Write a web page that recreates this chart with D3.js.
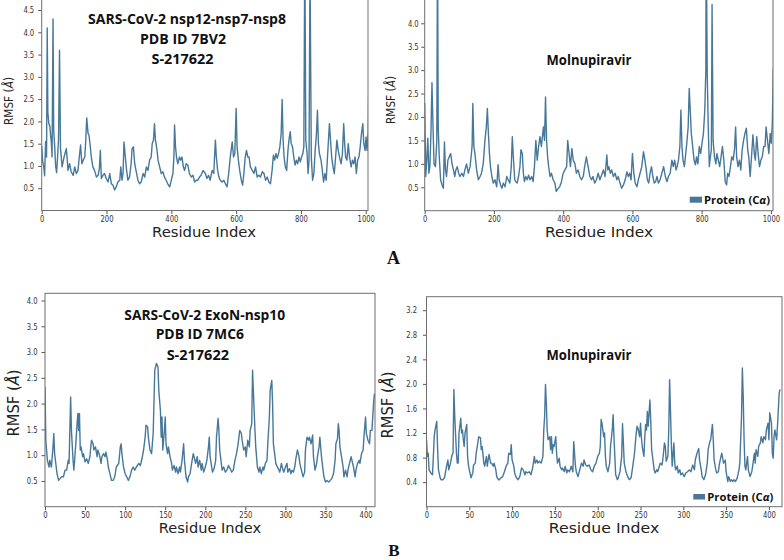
<!DOCTYPE html>
<html><head><meta charset="utf-8">
<script src="https://cdn.jsdelivr.net/npm/d3@7"></script>
<style>body{margin:0;background:#fff}svg{display:block}</style>
</head><body>
<script>
// ---------- DATA ----------
const a1Residue = [0,3,6,9,12,15,17,19,22,25,28,30,32,35,37,40,43,46,49,52,55,58,63,69,76,79,81,86,91,97,102,107,112,116,120,124,128,133,136,139,143,146,150,153,158,163,169,174,178,181,184,189,194,199,205,210,215,220,225,230,235,241,244,248,251,254,258,262,266,271,276,279,283,287,291,297,302,307,313,318,323,328,333,338,341,345,348,351,356,359,364,369,374,379,384,389,395,400,405,408,410,413,416,420,425,429,433,437,441,446,451,456,462,467,472,477,482,487,492,498,505,510,515,520,526,531,536,539,543,547,551,557,562,567,572,577,582,588,592,596,600,603,607,611,616,620,624,628,632,636,640,644,650,655,660,665,670,675,681,686,691,696,701,706,711,715,719,723,727,731,735,739,742,745,748,752,756,760,763,767,770,774,778,782,786,790,794,798,802,806,809,812,815,819,822,825,828,832,836,840,844,848,851,854,857,862,866,870,874,878,882,885,888,892,895,899,903,907,911,915,919,924,928,932,935,938,942,946,950,955,959,963,967,971,975,979,983,987,991,994,998,1001,1004,1008,1010];
const a1Rmsf = [1.45,1.1,1.0,0.78,1.55,1.2,4.1,2.2,1.95,1.9,1.65,1.5,1.2,4.3,1.8,1.45,1.0,0.85,1.2,1.6,3.6,1.4,0.98,1.2,1.39,1.13,0.9,1.05,0.87,0.79,0.98,0.83,0.9,1.2,1.47,1.05,1.13,1.2,1.58,2.08,1.73,1.69,1.43,1.2,0.98,0.9,0.75,0.79,0.94,1.35,0.72,0.79,0.83,0.72,0.64,0.83,0.6,0.57,0.46,0.53,0.64,0.68,0.98,0.68,0.83,1.54,1.2,0.9,0.68,0.75,1.05,1.39,1.43,1.05,0.9,0.68,0.6,0.64,0.83,0.75,0.98,0.9,1.13,1.2,1.5,1.58,1.95,1.58,1.35,1.13,0.98,0.83,0.87,0.75,0.68,0.6,0.53,0.68,0.83,1.2,1.92,1.43,1.2,1.05,1.2,1.13,1.2,0.98,0.9,1.05,1.02,0.83,0.75,0.79,0.64,0.68,0.68,0.75,0.79,0.9,0.83,0.72,0.79,0.68,0.9,0.83,1.58,1.2,0.9,0.75,0.68,0.64,0.68,0.6,0.53,0.83,1.2,1.54,1.2,1.28,2.29,1.43,1.13,0.9,0.68,0.57,0.83,1.2,1.35,1.2,1.2,0.98,0.9,0.83,0.98,0.75,0.79,0.75,0.87,0.83,0.68,0.75,0.64,0.6,0.9,1.24,1.13,1.28,1.17,1.28,1.43,1.73,2.49,1.58,1.2,0.98,0.9,1.35,1.58,1.77,1.5,1.43,1.2,1.02,1.13,1.05,1.2,1.09,1.2,1.28,1.43,6.0,1.58,1.28,0.83,1.13,5.5,1.2,0.68,0.83,1.35,1.73,2.25,1.5,1.28,1.13,0.9,0.64,0.83,0.68,1.2,1.58,1.95,1.5,1.2,0.98,0.83,1.2,1.58,1.35,1.2,1.05,1.28,1.95,1.5,1.2,1.13,1.5,1.2,0.98,1.13,1.05,1.2,0.83,1.13,1.2,1.43,1.73,1.95,1.5,1.35,1.65,1.35,1.8,3.3];

const a2Residue = [0,3,6,9,12,15,18,21,24,27,31,35,37,39,42,46,50,54,57,60,63,67,71,75,79,83,87,90,94,98,102,107,112,116,121,126,131,135,137,139,142,145,150,155,160,164,169,174,178,181,184,187,190,194,198,203,208,212,215,219,223,227,232,237,241,246,250,253,256,260,263,267,271,275,278,282,285,288,292,296,300,304,309,313,317,321,325,329,333,337,341,343,346,349,352,355,358,362,366,371,376,380,386,390,395,400,405,410,413,417,421,425,429,434,438,443,448,453,458,462,467,472,477,482,486,491,496,501,506,511,516,521,526,529,532,536,540,545,550,555,559,564,569,574,579,584,588,592,596,600,604,608,613,617,622,627,632,636,640,643,647,651,655,659,663,667,671,675,680,685,690,695,700,704,709,714,718,722,726,729,733,737,740,743,746,750,754,757,761,764,767,770,774,778,782,785,789,793,797,801,805,809,812,813,816,819,822,825,828,830,833,837,841,844,848,852,856,860,864,868,872,875,879,883,887,891,895,898,901,905,909,913,917,921,925,929,933,936,940,944,948,952,955,959,963,967,971,975,979,983,986,990,994,998,1001,1004,1007];
const a2Rmsf = [2.3,0.73,1.08,1.55,0.8,0.94,1.65,2.73,1.79,1.0,0.94,1.5,6.0,1.79,1.15,0.66,0.55,0.48,1.47,0.87,0.73,1.08,1.15,1.22,1.0,0.87,0.73,0.87,0.94,0.8,0.73,0.8,0.73,0.87,1.0,0.8,0.94,1.22,1.4,2.29,1.37,1.22,0.87,0.66,0.73,0.8,1.0,1.5,1.79,2.18,1.65,1.22,0.94,0.73,0.59,0.66,0.51,0.98,0.66,0.55,0.48,0.59,0.51,0.73,0.66,0.59,0.94,1.58,1.15,0.66,0.62,0.59,0.73,0.94,1.3,1.22,0.8,0.62,0.73,0.66,0.76,0.66,0.73,0.62,0.94,1.5,1.08,1.37,1.58,1.37,1.65,1.79,1.5,2.43,1.5,1.15,0.94,0.73,0.8,0.66,0.59,0.41,0.48,0.51,0.62,0.8,0.87,0.94,1.5,1.22,0.94,1.33,1.08,1.0,0.8,0.87,0.73,0.66,0.73,0.94,1.15,0.94,0.73,0.66,0.73,0.59,0.66,0.8,0.66,0.76,0.87,0.73,1.19,0.87,0.94,0.8,0.87,0.73,0.8,0.66,0.73,0.59,0.48,0.55,0.66,0.83,0.73,0.8,0.66,1.22,0.8,0.59,0.51,0.66,0.8,0.94,1.26,1.08,0.87,0.66,0.59,0.8,0.94,0.73,0.59,0.62,0.73,0.59,0.66,0.8,0.94,0.73,0.62,0.73,0.8,1.08,0.94,1.08,0.87,0.94,1.08,1.37,2.15,1.37,1.08,0.94,1.22,1.44,1.79,2.61,2.15,1.65,1.37,1.08,0.98,1.15,1.0,1.37,1.22,1.44,1.65,2.15,3.0,6.0,2.93,1.79,0.94,1.15,1.3,4.4,1.5,1.15,1.0,1.22,1.08,0.94,1.15,1.37,1.08,0.62,0.55,0.8,0.73,0.94,1.15,1.08,1.33,1.79,1.15,0.94,1.08,0.87,1.3,1.5,1.65,1.76,1.3,1.15,0.73,1.15,1.62,1.22,1.08,1.58,1.22,0.94,1.08,1.15,1.37,1.37,1.79,1.5,1.22,1.65,1.44,1.86,3.05];

const b1Residue = [0,1,3,5,6,8,10,11,12,15,17,19,21,23,25,27,29,30,32,33,35,36,37,39,40,41,42,43,44,45,47,48,50,52,54,56,58,60,61,63,65,66,68,70,71,73,75,76,78,79,81,83,85,87,89,92,94,95,96,98,100,102,104,106,108,110,112,114,117,119,121,123,125,126,128,129,131,133,135,137,138,139,141,142,144,145,146,147,149,150,151,153,154,156,158,159,161,163,164,166,168,169,171,173,174,176,178,179,181,183,185,186,188,190,191,193,195,196,198,200,202,204,205,206,208,209,211,213,214,216,217,218,220,221,223,225,227,229,231,233,235,237,239,241,243,245,246,248,250,251,253,255,256,258,259,260,261,262,263,265,267,268,270,272,273,275,277,278,280,281,283,284,285,287,288,290,292,293,295,297,298,300,302,303,305,307,308,310,312,313,315,317,318,320,322,324,325,327,329,330,332,334,335,337,339,340,342,343,345,347,348,350,352,354,356,358,360,362,363,365,366,367,368,370,372,373,375,377,378,380,382,383,385,387,388,390,392,393,395,397,398,400,401,403,405,406,408,410,411];
const b1Rmsf = [2.32,1.29,0.9,0.77,0.9,0.77,1.16,1.42,1.03,0.64,0.51,0.55,0.58,0.58,0.71,0.71,0.9,0.84,2.13,1.48,0.9,0.71,0.9,1.35,1.61,1.81,1.48,1.81,1.1,1.16,0.97,1.03,0.87,0.93,0.84,0.97,1.29,1.22,1.1,1.16,0.97,1.1,1.0,0.84,0.97,1.03,0.97,1.06,0.9,0.77,0.64,0.51,0.51,0.58,0.77,0.84,1.16,1.22,1.03,0.77,0.64,0.58,0.51,0.58,0.71,0.77,0.71,0.77,0.84,0.8,0.93,1.1,1.35,1.58,1.55,1.35,1.1,1.03,1.42,2.65,2.71,2.78,2.71,2.26,1.87,1.35,1.74,1.1,1.48,1.74,1.22,1.03,1.16,0.97,0.84,0.71,0.8,0.67,0.77,0.64,0.77,0.67,0.9,1.22,0.9,0.58,0.48,0.58,0.64,0.84,1.03,0.97,0.84,0.97,0.77,0.9,0.71,0.84,0.67,0.77,0.9,1.16,1.35,0.97,0.77,0.67,0.74,0.9,1.35,1.71,1.48,1.1,0.84,0.71,0.77,0.67,0.71,0.8,0.74,0.67,0.71,0.9,1.03,1.22,1.48,1.42,1.29,1.1,1.16,0.97,1.29,1.16,1.48,1.61,2.65,2.26,1.87,1.48,1.16,0.77,0.67,0.77,0.64,0.77,0.71,0.84,0.9,1.22,1.74,2.26,2.45,2.0,1.22,0.97,0.84,0.77,0.71,0.67,0.84,0.71,0.67,0.77,0.84,0.67,0.74,0.64,0.71,0.67,0.8,0.93,1.1,0.97,0.84,0.71,0.58,0.67,1.1,1.35,1.29,1.35,1.22,1.39,0.97,0.71,0.84,0.97,1.16,1.35,0.97,0.71,0.58,0.48,0.51,0.48,0.51,0.55,0.64,0.9,1.22,1.32,1.61,1.48,1.16,0.97,0.77,0.58,0.71,0.58,0.71,0.84,0.97,0.9,0.77,0.58,0.71,0.84,0.9,0.84,1.03,1.1,1.35,1.74,1.42,1.29,1.22,1.48,1.48,2.0,2.19];

const b2Residue = [0,1,2,3,5,7,8,9,10,12,13,14,16,17,19,21,23,25,26,28,30,31,32,33,35,36,37,38,40,41,42,43,44,45,47,48,49,50,52,54,55,57,58,60,61,63,64,65,67,68,70,71,73,75,76,78,79,81,82,84,85,87,89,91,93,95,96,98,99,100,102,103,105,107,109,111,113,115,116,118,120,122,124,126,127,129,130,132,134,136,137,138,139,140,141,142,144,145,146,147,148,149,151,152,153,155,156,158,159,161,162,164,165,167,169,171,172,174,175,177,179,181,183,184,186,188,190,192,194,196,198,200,202,203,204,205,207,208,209,210,212,214,215,217,218,219,220,221,223,224,226,228,229,230,231,233,235,237,239,241,243,244,245,246,247,249,250,251,252,254,255,256,257,258,259,261,262,263,264,266,267,269,270,272,273,275,276,278,279,280,282,283,284,285,286,287,289,290,291,293,294,296,297,299,301,303,305,307,309,311,313,314,316,318,319,321,322,324,326,328,329,331,332,334,335,336,338,339,341,342,344,345,347,349,350,352,353,355,356,358,359,361,363,365,366,368,369,370,371,372,373,375,376,378,380,381,383,384,385,387,388,390,391,393,394,396,397,399,400,401,403,404,405,406,407,409,410,412,413];
const b2Rmsf = [1.09,0.82,0.87,0.6,0.55,0.52,0.82,1.14,1.25,1.39,0.93,0.6,0.47,0.44,0.44,0.47,0.63,0.76,0.6,0.71,0.85,0.87,1.91,1.47,0.87,0.71,0.71,1.2,1.44,1.2,1.25,1.09,0.98,1.2,1.34,0.82,0.68,0.6,0.47,0.55,0.68,0.71,0.87,1.04,1.14,1.12,0.93,0.98,0.71,0.66,0.82,0.66,0.85,0.71,0.71,0.66,0.71,0.6,0.49,0.44,0.44,0.47,0.49,0.57,0.66,0.71,0.87,0.85,1.01,0.76,0.66,0.55,0.47,0.44,0.49,0.63,0.6,0.52,0.57,0.55,0.57,0.52,0.63,0.82,0.71,0.76,0.71,0.74,0.71,0.82,1.25,1.47,1.99,1.69,1.25,1.09,1.14,0.93,1.14,0.87,1.01,0.98,1.14,0.87,0.71,0.79,0.66,0.6,0.63,0.57,0.66,0.55,0.6,0.57,0.66,0.57,1.06,0.66,0.57,0.49,0.6,0.71,0.66,0.76,0.68,0.66,0.68,0.6,0.57,0.66,0.71,0.82,0.87,0.98,1.42,1.36,1.14,1.2,0.82,0.66,0.57,0.71,0.98,1.25,1.5,1.14,0.82,0.52,0.44,0.47,0.57,0.82,1.35,1.04,0.71,0.57,0.49,0.44,0.47,0.66,0.87,1.04,1.2,1.31,1.28,1.14,1.36,1.14,0.98,0.82,1.14,1.34,1.25,1.55,1.31,1.74,1.39,0.93,0.82,0.6,0.55,0.6,0.57,0.66,0.71,0.68,0.76,1.04,0.98,0.74,0.82,1.25,2.07,1.58,1.04,0.66,1.04,0.71,0.6,0.66,0.55,0.6,0.52,0.55,0.49,0.55,0.57,0.6,0.57,0.68,0.6,0.76,0.87,0.95,0.76,0.6,0.49,0.44,0.52,0.71,0.93,1.06,1.09,1.34,1.09,0.76,0.6,0.55,0.57,0.68,0.82,0.87,0.71,0.76,0.57,0.41,0.49,0.41,0.44,0.41,0.44,0.41,0.47,0.6,0.71,1.47,2.26,1.8,1.09,0.66,0.6,0.82,0.6,0.49,0.57,0.66,0.87,0.71,0.93,0.82,0.98,1.04,1.14,1.04,1.14,1.09,1.25,1.36,1.09,1.53,1.36,0.87,0.79,1.14,1.25,1.09,1.31,1.85,1.91];

const xTicksA = [0,200,400,600,800,1000];
const xTicksB = [0,50,100,150,200,250,300,350,400];
const yTicksA1 = [0.5,1.0,1.5,2.0,2.5,3.0,3.5,4.0,4.5];
const yTicksA2 = [0.5,1.0,1.5,2.0,2.5,3.0,3.5,4.0];
const yTicksB1 = [0.5,1.0,1.5,2.0,2.5,3.0,3.5,4.0];
const yTicksB2 = [0.4,0.8,1.2,1.6,2.0,2.4,2.8,3.2];

const titleA1 = ["SARS-CoV-2  nsp12-nsp7-nsp8","PDB ID  7BV2","S-217622"];
const titleB1 = ["SARS-CoV-2 ExoN-nsp10","PDB ID  7MC6","S-217622"];
const titleDrug = ["Molnupiravir"];
const xLabel = "Residue Index";
const legendLabel = "Protein (C";
const legendGreek = "α";

// ---------- DRAWING ----------
const COLOR = "#47789a";
const svg = d3.select("body").append("svg").attr("width",784).attr("height",560);

function fitWidth(sel, w){ sel.attr("textLength", w).attr("lengthAdjust","spacingAndGlyphs"); }
function squeeze(sel, f){
  sel.each(function(){
    const w = this.getComputedTextLength();
    d3.select(this).attr("textLength", w*f).attr("lengthAdjust","spacingAndGlyphs");
  });
}

function panel(p){
  const x = d3.scaleLinear().domain([0,p.xMax]).range([p.left,p.right]);
  const y = d3.scaleLinear().domain([0,p.yMax]).range([p.bottom,p.top]);
  const g = svg.append("g");
  const cid = "clip-"+p.id;
  svg.append("clipPath").attr("id",cid).append("rect")
    .attr("x",p.left).attr("y",Math.max(p.top,0)).attr("width",p.right-p.left).attr("height",p.bottom-Math.max(p.top,0));
  const data = p.res.map((r,i)=>[r,p.val[i]]);
  g.append("path").datum(data)
    .attr("clip-path",`url(#${cid})`)
    .attr("fill","none").attr("stroke",COLOR).attr("stroke-width",1.4)
    .attr("stroke-linejoin","round")
    .attr("d", d3.line().x(d=>x(d[0])).y(d=>y(d[1])));

  const xa = g.append("g").attr("transform",`translate(0,${p.bottom})`)
    .call(d3.axisBottom(x).tickValues(p.xTicks).tickSize(3.5).tickPadding(2).tickFormat(d3.format("d")));
  const ya = g.append("g").attr("transform",`translate(${p.left},0)`)
    .call(d3.axisLeft(y).tickValues(p.yTicks).tickSize(3.5).tickPadding(p.yPad).tickFormat(d3.format(".1f")));
  [xa,ya].forEach(a=>{
    a.select(".domain").remove();
    a.selectAll("line").attr("stroke","#555");
    a.selectAll("text").attr("fill","#333").style("font-family","DejaVu Sans").style("font-size","8.5px");
    squeeze(a.selectAll("text"),0.8);
  });

  g.append("rect").attr("x",p.left).attr("y",p.top).attr("width",p.right-p.left).attr("height",p.bottom-p.top)
    .attr("fill","none").attr("stroke","#6f6f6f").attr("stroke-width",1);

  // y label
  const yl = g.append("text")
    .attr("transform",`translate(${p.yLabX},${p.yLabY}) rotate(-90)`)
    .attr("text-anchor","middle").attr("fill","#222")
    .style("font-family","DejaVu Sans").style("font-size",p.yLabSize+"px");
  yl.append("tspan").text("RMSF (");
  yl.append("tspan").style("font-style","italic").text("Å");
  yl.append("tspan").text(")");
  fitWidth(yl, p.yLabLen);

  // x label
  const xl = g.append("text").attr("x",p.xLabX).attr("y",p.xLabY).attr("text-anchor","middle")
    .attr("fill","#222").style("font-family","DejaVu Sans").style("font-size","14px").text(xLabel);
  fitWidth(xl, p.xLabLen);

  // titles
  p.titles.forEach((t,i)=>{
    const tt = g.append("text").attr("x",p.titlePos[i][0]).attr("y",p.titlePos[i][1]).attr("text-anchor","middle")
      .attr("fill","#111").style("font-family","Open Sans").style("font-weight","bold").style("font-size","14px").text(t);
    fitWidth(tt, p.titlePos[i][2]);
  });

  if(p.legend){
    const L = p.legend;
    g.append("rect").attr("x",L.x).attr("y",L.y).attr("width",L.w).attr("height",L.h).attr("fill",COLOR);
    const lt = g.append("text").attr("x",L.tx).attr("y",L.ty).attr("fill","#111")
      .style("font-family","Open Sans").style("font-weight","bold").style("font-size","11px");
    lt.append("tspan").text(legendLabel);
    lt.append("tspan").style("font-style","italic").text(legendGreek);
    lt.append("tspan").text(")");
    fitWidth(lt, L.tw);
  }
}

panel({id:"a1",res:a1Residue,val:a1Rmsf,xMax:1007,yMax:4.77,left:41.7,right:368,top:-2,bottom:210.5,
  xTicks:xTicksA,yTicks:yTicksA1,yPad:4,
  yLabX:13,yLabY:101,yLabSize:13,yLabLen:48,
  xLabX:204,xLabY:237,xLabLen:104,
  titles:titleA1,titlePos:[[187,24,198],[183,43.5,86],[182.5,64,62]]});

panel({id:"a2",res:a2Residue,val:a2Rmsf,xMax:1006,yMax:4.54,left:424.7,right:773,top:-2,bottom:210.7,
  xTicks:xTicksA,yTicks:yTicksA2,yPad:2.5,
  yLabX:395,yLabY:100,yLabSize:13,yLabLen:48,
  xLabX:599,xLabY:237,xLabLen:108,
  titles:titleDrug,titlePos:[[589,65,85]],
  legend:{x:689.7,y:196.7,w:12.3,h:6,tx:704,ty:203.5,tw:66}});

panel({id:"b1",res:b1Residue,val:b1Rmsf,xMax:411.8,yMax:4.14,left:45,right:375,top:293.3,bottom:506.7,
  xTicks:xTicksB,yTicks:yTicksB1,yPad:4,
  yLabX:18.5,yLabY:403,yLabSize:15,yLabLen:67,
  xLabX:210,xLabY:533.3,xLabLen:102.5,
  titles:titleB1,titlePos:[[204.7,320,160.7],[199.8,339,88.3],[197.8,360,62.3]]});

panel({id:"b2",res:b2Residue,val:b2Rmsf,xMax:415.3,yMax:3.42,left:426.5,right:782,top:296.7,bottom:506.7,
  xTicks:xTicksB,yTicks:yTicksB2,yPad:6,
  yLabX:393,yLabY:405,yLabSize:15,yLabLen:67,
  xLabX:604,xLabY:533.3,xLabLen:110.5,
  titles:titleDrug,titlePos:[[589,360,85]],
  legend:{x:693.3,y:494,w:11.7,h:5.5,tx:707.3,ty:501,tw:66}});

// panel letters
svg.append("text").attr("x",393.5).attr("y",264).attr("text-anchor","middle")
  .style("font-family","Liberation Serif").style("font-weight","bold").style("font-size","18px").attr("fill","#111").text("A");
svg.append("text").attr("x",394).attr("y",556).attr("text-anchor","middle")
  .style("font-family","Liberation Serif").style("font-weight","bold").style("font-size","17px").attr("fill","#111").text("B");
</script>
</body></html>
